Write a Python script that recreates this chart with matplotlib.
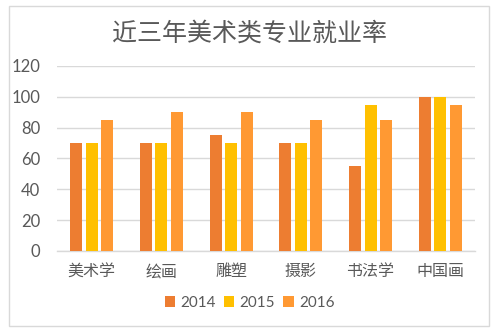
import numpy as np
import matplotlib.pyplot as plt
from matplotlib.patches import Rectangle

plt.rcParams['font.family'] = ['Noto Sans CJK SC', 'DejaVu Sans']

# 就业率数据
majors = ["美术学", "绘画", "雕塑", "摄影", "书法学", "中国画"]
years = ["2014", "2015", "2016"]
rate_2014 = [70, 70, 75, 70, 55, 100]
rate_2015 = [70, 70, 70, 70, 95, 100]
rate_2016 = [85, 90, 90, 85, 85, 95]
yticks = [0, 20, 40, 60, 80, 100, 120]

colors = ["#ED7D31", "#FFC000", "#FF9933"]
text_gray = "#595959"

fig = plt.figure(figsize=(4.99, 3.35), dpi=100)
ax = fig.add_axes([0.114, 0.251, 0.838, 0.552])

x = np.arange(len(majors))
width = 0.172
step = 0.223
for i, (vals, yr) in enumerate(zip([rate_2014, rate_2015, rate_2016], years)):
    ax.bar(x + (i - 1) * step, vals, width, color=colors[i], label=yr, zorder=3)

ax.set_xlim(-0.5, len(majors) - 0.5)
ax.set_ylim(0, 120)
ax.set_yticks(yticks)
ax.set_yticklabels([str(t) for t in yticks], fontsize=12, color=text_gray,
                   family="Lato")
ax.set_xticks(x)
ax.set_xticklabels(majors, fontsize=11.5, color=text_gray)
ax.tick_params(axis="both", length=0)
ax.tick_params(axis="y", pad=12)
ax.tick_params(axis="x", pad=9)
ax.grid(axis="y", color="#D9D9D9", linewidth=1, zorder=0)
for side in ["top", "right", "left"]:
    ax.spines[side].set_visible(False)
ax.spines["bottom"].set_color("#D9D9D9")
ax.spines["bottom"].set_linewidth(1)

fig.text(0.5, 0.90, "近三年美术类专业就业率", ha="center", va="center",
         fontsize=18, color=text_gray)

leg = fig.legend(loc="center", bbox_to_anchor=(0.5, 0.096), ncol=3, frameon=False,
                 prop={"family": "Lato", "size": 11},
                 handlelength=0.7, handleheight=0.7,
                 handletextpad=0.35, columnspacing=0.5)
for t in leg.get_texts():
    t.set_color(text_gray)

# 外框
fig.patches.append(Rectangle((9 / 499, 1 - 326 / 335), 480 / 499, 320 / 335,
                             transform=fig.transFigure, fill=False,
                             edgecolor="#D9D9D9", linewidth=1))

fig.savefig("out.png", dpi=100, facecolor="white")
